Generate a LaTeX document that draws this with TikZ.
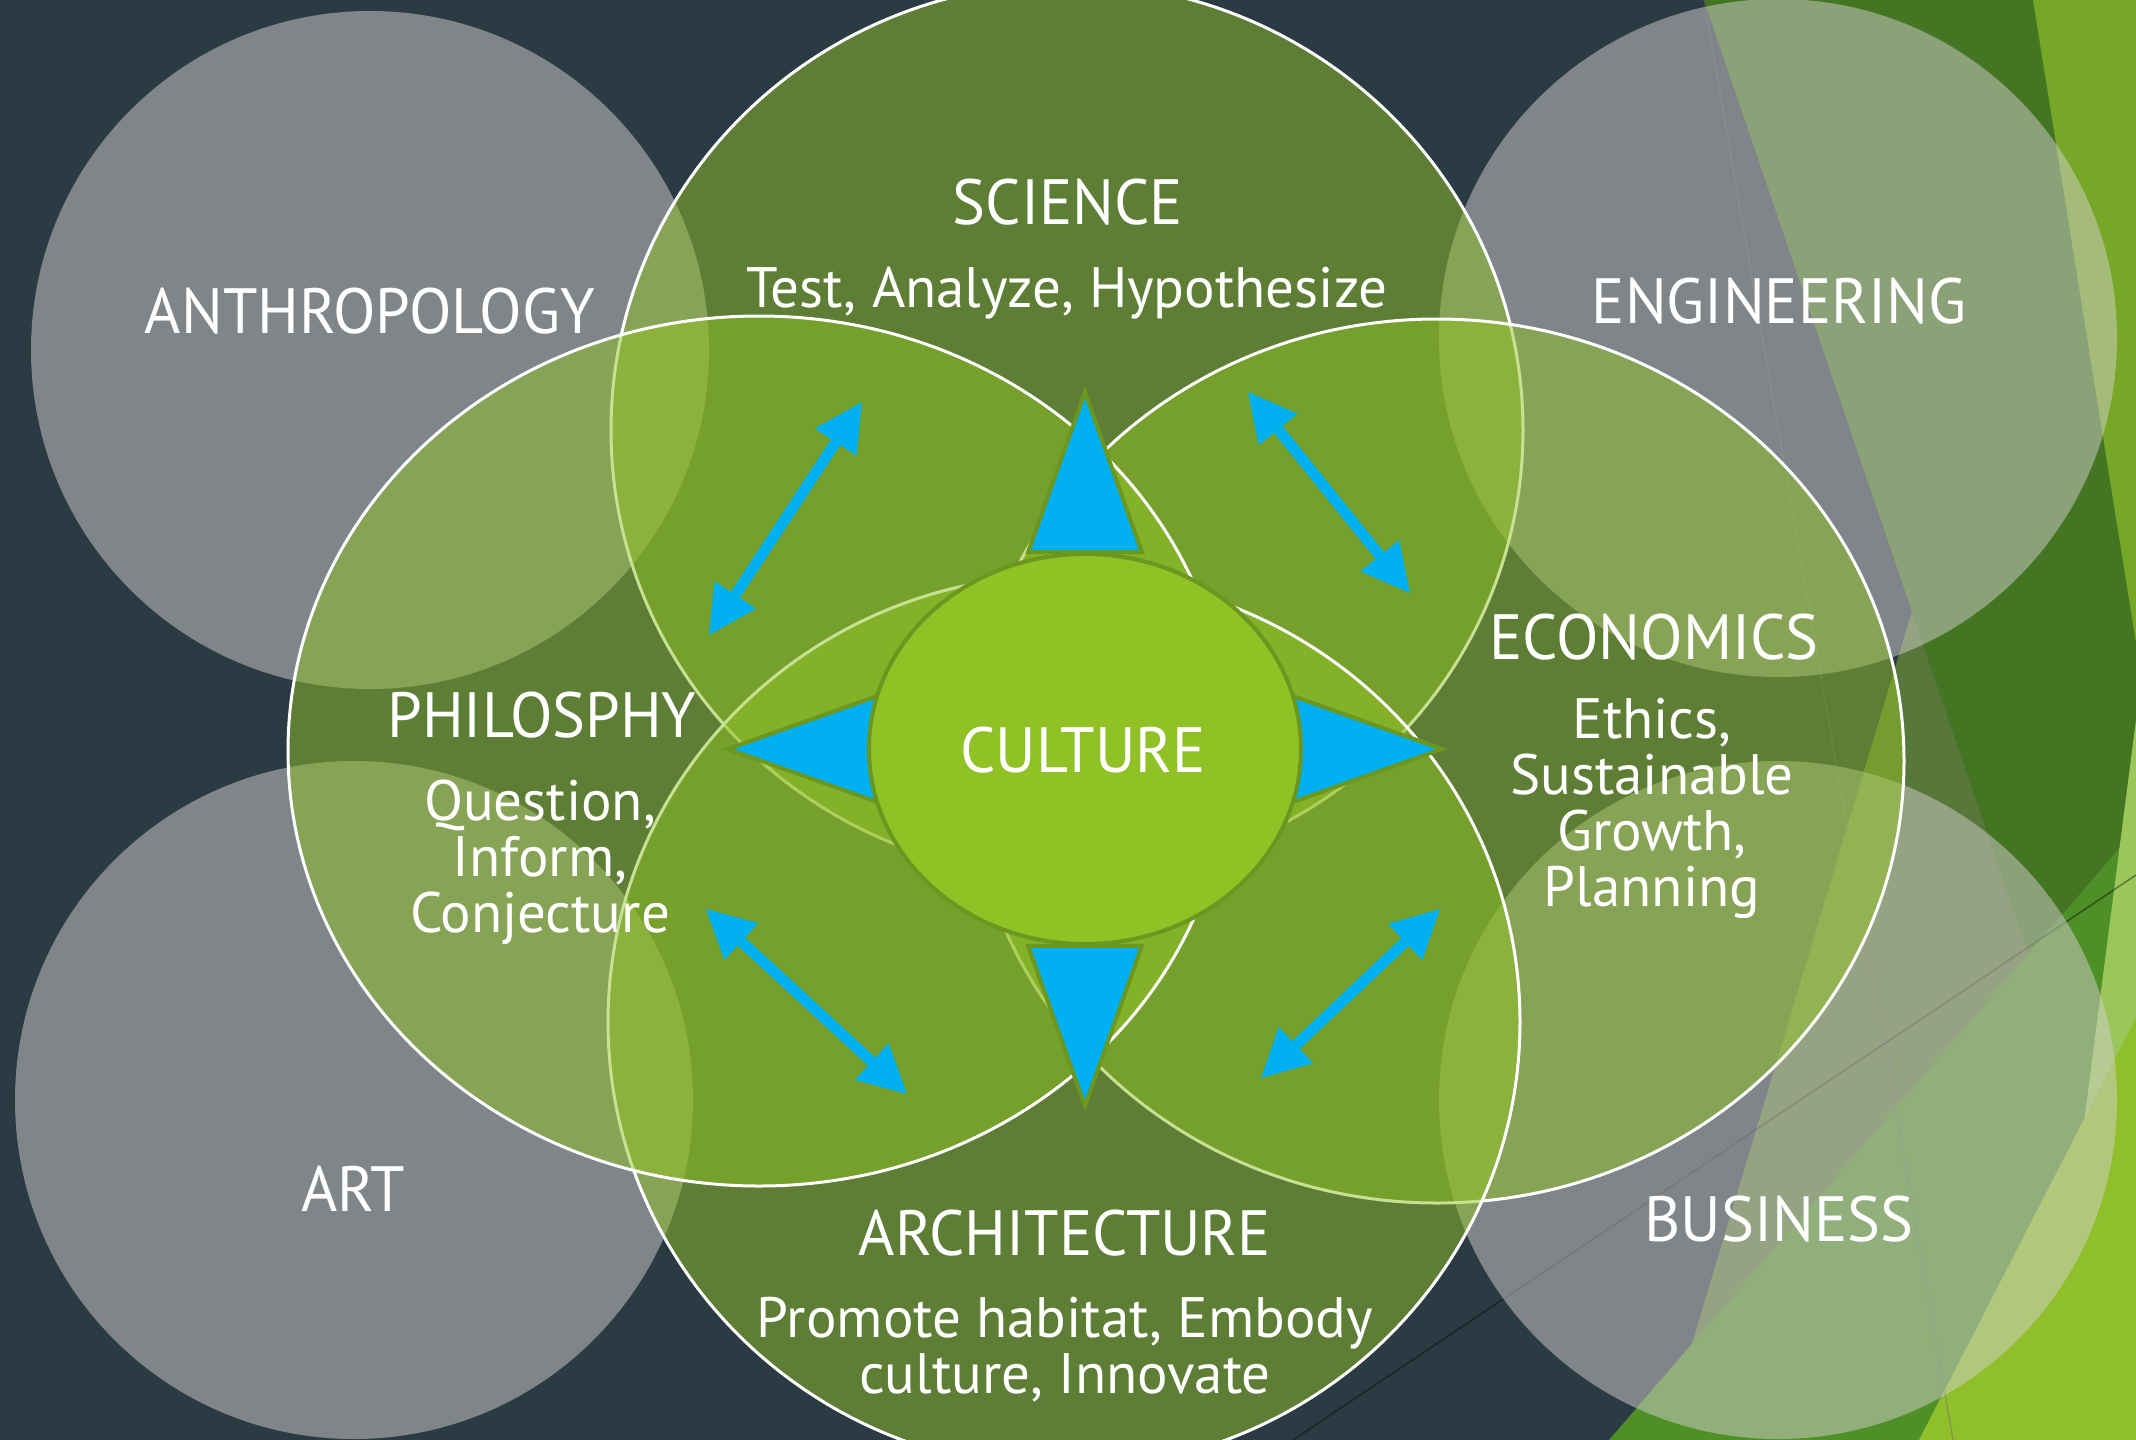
\documentclass[tikz,border=0pt]{standalone}
\usepackage{fontspec}
\setmainfont{PT Sans}
\newfontfamily\headfont[FakeStretch=0.97]{PT Sans}
\usetikzlibrary{shapes.geometric,arrows.meta,calc}

\definecolor{slate}{HTML}{2B3B43}
\definecolor{leafgreen}{HTML}{90C226}
\definecolor{rimgreen}{HTML}{6B961F}
\definecolor{skyblue}{HTML}{00B0F0}
\definecolor{mist}{HTML}{D3CFCD}
\definecolor{bgdark}{HTML}{437523}
\definecolor{bgmoss}{HTML}{58773A}
\definecolor{bgmid}{HTML}{4E8F28}
\definecolor{bglight}{HTML}{77A726}
\definecolor{bgpale}{HTML}{9AC65A}
\definecolor{bgbright}{HTML}{8FC02B}

\tikzstyle{discipline} = [circle, fill=mist, fill opacity=0.5, minimum size=678pt, inner sep=0pt]
\tikzstyle{fieldblob} = [ellipse, draw=white, line width=3pt, fill=leafgreen, fill opacity=0.5, inner sep=0pt]
\tikzstyle{hubnode} = [ellipse, draw=rimgreen, line width=4pt, fill=leafgreen, minimum width=432pt, minimum height=390pt, inner sep=0pt]
\tikzstyle{pointer} = [draw=rimgreen, line width=4pt, fill=skyblue, line join=miter]
\tikzstyle{twoway} = [draw=skyblue, line width=11pt, <->, >={Triangle[length=48pt,width=50pt,line width=0pt]}]
\tikzstyle{headtext} = [text=white, font=\headfont\fontsize{64}{70}\selectfont, inner sep=0pt, anchor=base]
\tikzstyle{notetext} = [text=white, font=\fontsize{57}{56}\selectfont, align=center, inner sep=0pt, anchor=base]

\begin{document}
\begin{tikzpicture}[x=1pt,y=-1pt]
    \useasboundingbox (0,0) rectangle (2136,1440);
    \clip (0,0) rectangle (2136,1440);

    % backdrop
    \fill[slate] (0,0) rectangle (2136,1440);
    \fill[bgmoss] (1912,611) -- (2136,1270) -- (2136,1440) -- (1663,1440) -- cycle;
    \fill[bgdark] (1704,0) -- (2136,0) -- (2136,1270) -- cycle;
    \fill[bgmid] (1609,1440) -- (2136,829) -- (2136,1440) -- cycle;
    \fill[bglight] (2033,0) -- (2136,0) -- (2136,643) -- cycle;
    \fill[bgpale] (2136,720) -- (2136,1440) -- (2043,1440) -- cycle;
    \fill[bgbright] (2136,1018) -- (2136,1440) -- (1919,1440) -- cycle;
    \draw[black!60, opacity=0.4, line width=1.5pt] (1704,0) -- (1953,1440);
    \draw[black, opacity=0.4, line width=1.5pt] (1293,1440) -- (2136,875);

    % outer disciplines
    \node[discipline] (anthropology) at (370,350) {};
    \node[discipline] (artdisc) at (354,1100) {};
    \node[discipline] (engineering) at (1778,338) {};
    \node[discipline] (business) at (1778,1100) {};

    % overlapping fields
    \node[fieldblob, minimum width=912pt, minimum height=894pt] (science) at (1067,430) {};
    \node[fieldblob, minimum width=934pt, minimum height=884pt] (economics) at (1437,761) {};
    \node[fieldblob, minimum width=912pt, minimum height=894pt] (architecture) at (1064,1022) {};
    \node[fieldblob, minimum width=942pt, minimum height=870pt] (philosophy) at (759,751) {};

    % two-way links
    \coordinate (ulA) at (862,402);
    \coordinate (ulB) at (709,635);
    \coordinate (urA) at (1248,392);
    \coordinate (urB) at (1410,593);
    \coordinate (llA) at (706,909);
    \coordinate (llB) at (907,1094);
    \coordinate (lrA) at (1440,909);
    \coordinate (lrB) at (1261,1078);
    \draw[twoway] (ulA) -- (ulB);
    \draw[twoway] (urA) -- (urB);
    \draw[twoway] (llA) -- (llB);
    \draw[twoway] (lrA) -- (lrB);

    \coordinate (core) at (1085,749);
    \foreach \a in {0,90,180,270}
        \draw[pointer] ($(core)+(\a:357)$) -- ($(core)+(\a+16.1:205)$) -- ($(core)+(\a-16.1:205)$) -- cycle;
    \node[hubnode] (culture) at (core) {};

    \node[headtext] (anthrolabel) at (370,333) {ANTHROPOLOGY};
    \node[headtext] (englabel) at (1779,323) {ENGINEERING};
    \node[headtext] (artlabel) at (353,1211) {ART};
    \node[headtext] (busilabel) at (1779,1241) {BUSINESS};
    \node[headtext] (scilabel) at (1068,224) {SCIENCE};
    \node[notetext] (scinote) at (1067,307) {Test, Analyze, Hypothesize};
    \node[headtext] (phillabel) at (542,737) {PHILOSPHY};
    \node[notetext] (philnote) at (540,932) {Question,\\Inform,\\Conjecture};
    \node[headtext] (econlabel) at (1654,659) {ECONOMICS};
    \node[notetext] (econnote) at (1652,906) {Ethics,\\Sustainable\\Growth,\\Planning};
    \node[headtext] (archlabel) at (1065,1255) {ARCHITECTURE};
    \node[notetext] (archnote) at (1065,1393) {Promote habitat, Embody\\culture, Innovate};
    \node[headtext] (cultlabel) at (1083,772) {CULTURE};
\end{tikzpicture}
\end{document}
